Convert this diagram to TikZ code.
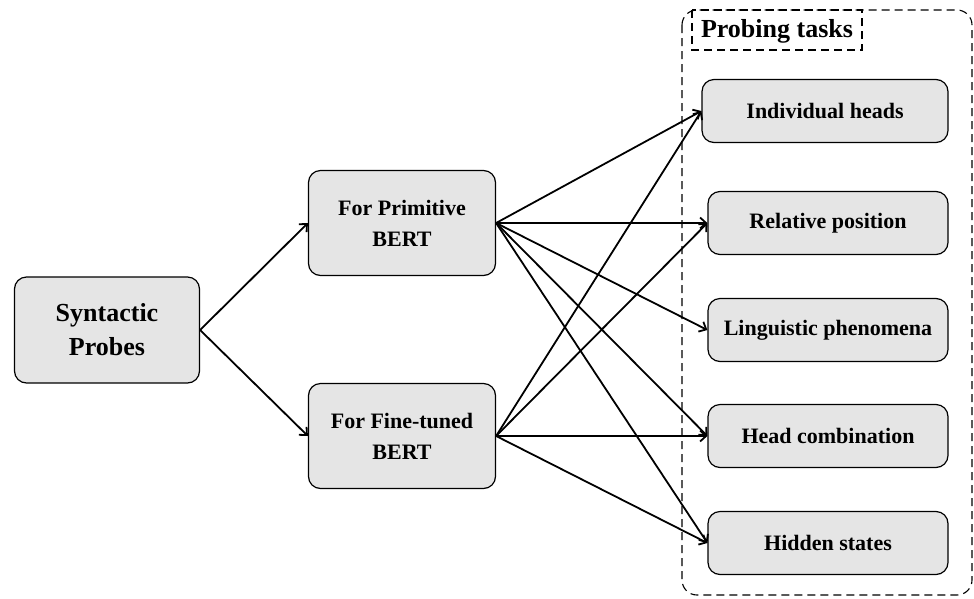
\documentclass[tikz,border=0pt]{standalone}
\usepackage{fontspec}
\setmainfont{Liberation Serif}
\usetikzlibrary{arrows.meta}

\begin{document}
\begin{tikzpicture}[x = 1pt, y = -1pt,
  box/.style = {draw, fill = gray!20, rounded corners = 12pt, line width = 1.2pt, align = center, inner sep = 0pt, font = \bfseries\fontsize{22}{31}\selectfont},
  task/.style = {box, minimum width = 240pt, minimum height = 63pt},
  link/.style = {line width = 1.8pt, -{Straight Barb[length = 6pt, width = 11pt]}},
  frame/.style = {dashed, dash pattern = on 8pt off 5pt, line width = 1.1pt}]
\useasboundingbox (0,0) rectangle (974,598);
\draw[frame, rounded corners = 15pt] (682,10) rectangle (972,595);
\draw[frame] (692,10) rectangle (862,50);
\node[font = \bfseries\fontsize{26}{31}\selectfont] (label) at (777,31) {Probing tasks};
\node[box, minimum width = 185pt, minimum height = 106pt, font = \bfseries\fontsize{26}{34}\selectfont] (probes) at (107,330) {Syntactic \\ Probes};
\node[box, minimum width = 187pt, minimum height = 105pt] (prim) at (402,223) {For Primitive \\ BERT};
\node[box, minimum width = 187pt, minimum height = 105pt] (fine) at (402,436) {For Fine-tuned \\ BERT};
\node[task, minimum width = 246pt] (heads) at (825,111) {Individual heads};
\node[task] (relpos) at (828,223) {Relative position};
\node[task] (ling) at (828,330) {Linguistic phenomena};
\node[task] (comb) at (828,436) {Head combination};
\node[task] (hidden) at (828,543) {Hidden states};
\draw[link] (probes.east) -- (prim.west);
\draw[link] (probes.east) -- (fine.west);
\draw[link] (prim.east) -- (heads.west);
\draw[link] (prim.east) -- (relpos.west);
\draw[link] (prim.east) -- (ling.west);
\draw[link] (prim.east) -- (comb.west);
\draw[link] (prim.east) -- (hidden.west);
\draw[link] (fine.east) -- (heads.west);
\draw[link] (fine.east) -- (relpos.west);
\draw[link] (fine.east) -- (comb.west);
\draw[link] (fine.east) -- (hidden.west);
\end{tikzpicture}
\end{document}
